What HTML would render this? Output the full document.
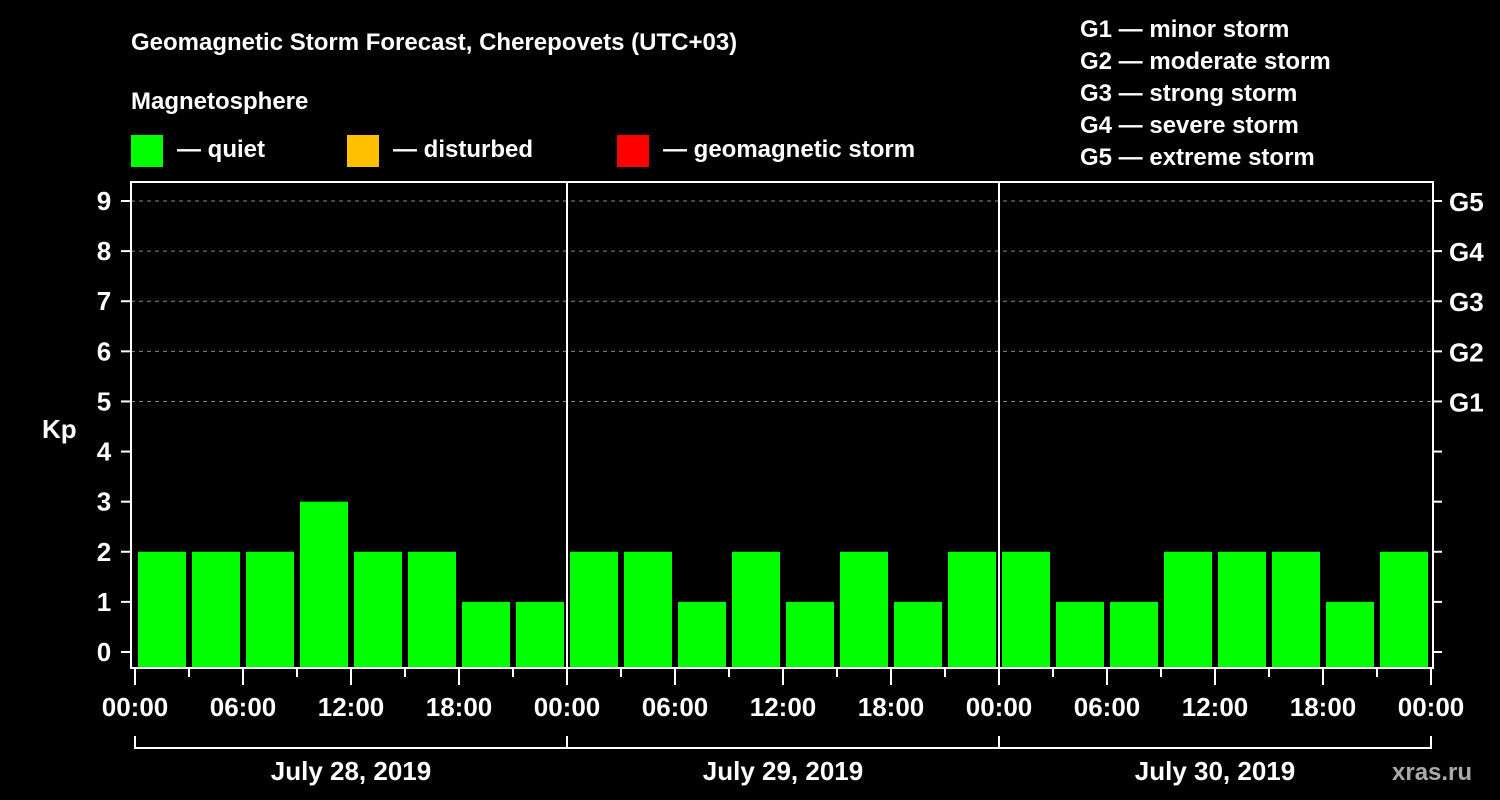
<!DOCTYPE html>
<html><head><meta charset="utf-8"><style>
html,body{margin:0;padding:0;background:#000;}
svg{display:block;font-family:"Liberation Sans",Arial,sans-serif;font-weight:bold;}
</style></head><body>
<svg id="c" width="1500" height="800" viewBox="0 0 1500 800">
<rect width="1500" height="800" fill="#000"/>
<text x="131" y="50" fill="#fff" font-size="24">Geomagnetic Storm Forecast, Cherepovets (UTC+03)</text>
<text x="131" y="109" fill="#fff" font-size="24">Magnetosphere</text>
<g><rect x="131" y="135" width="32" height="32" fill="#00ff00"/><text x="177" y="157" fill="#fff" font-size="24">— quiet</text></g>
<g><rect x="347" y="135" width="32" height="32" fill="#ffc000"/><text x="393" y="157" fill="#fff" font-size="24">— disturbed</text></g>
<g><rect x="617" y="135" width="32" height="32" fill="#ff0000"/><text x="663" y="157" fill="#fff" font-size="24">— geomagnetic storm</text></g>
<g fill="#fff" font-size="24">
<text x="1080" y="37">G1 — minor storm</text>
<text x="1080" y="69">G2 — moderate storm</text>
<text x="1080" y="101">G3 — strong storm</text>
<text x="1080" y="133">G4 — severe storm</text>
<text x="1080" y="165">G5 — extreme storm</text>
</g>
<text x="42" y="438" fill="#fff" font-size="26">Kp</text>
<text x="1392" y="780" fill="#aaa" font-size="24">xras.ru</text>
<g id="g"></g>
</svg>
<script>
const days = ["July 28, 2019","July 29, 2019","July 30, 2019"];
const hourLabels = ["00:00","06:00","12:00","18:00"];
const kpValues = [2,2,2,3,2,2,1,1, 2,2,1,2,1,2,1,2, 2,1,1,2,2,2,1,2];
const yTicks = [0,1,2,3,4,5,6,7,8,9];
const gLabels = ["G1","G2","G3","G4","G5"];
const gLevels = [5,6,7,8,9];

const X0=135, SLOT=54, L=131, R=1433, T=182, B=668;
const y = v => 652 - 50.11*v;
const x = i => X0 + SLOT*i;
const NS="http://www.w3.org/2000/svg", g=document.getElementById('g');
function mk(t,a,txt){const e=document.createElementNS(NS,t);for(const k in a)e.setAttribute(k,a[k]);if(txt!=null)e.textContent=txt;g.appendChild(e);return e;}

yTicks.forEach(v=>{
  if(v>=5){const l=mk('line',{x1:L,x2:R,y1:y(v),y2:y(v),stroke:'#888','stroke-dasharray':'4,4','stroke-width':1});
  
  }
  const t=mk('line',{x1:L-10,x2:L,y1:y(v),y2:y(v),stroke:'#fff','stroke-width':2});
  
  
  const t2=mk('line',{x1:R,x2:R+9,y1:y(v),y2:y(v),stroke:'#fff','stroke-width':2});
  
  
  const lb=mk('text',{x:104,y:y(v)+9,fill:'#fff','font-size':26,'text-anchor':'middle'},String(v));
  
  
});
gLevels.forEach((v,i)=>{
  const lb=mk('text',{x:1449,y:y(v)+10,fill:'#fff','font-size':26},gLabels[i]);
  
  
});
kpValues.forEach((v,i)=>{
  const col = v>=5?'#ff0000':(v>=4?'#ffc000':'#00ff00');
  const r=mk('rect',{x:x(i)+3,y:y(v),width:48,height:B-1-y(v),fill:col});
  
  
});
const f=mk('rect',{x:L,y:T,width:R-L,height:B-T,fill:'none',stroke:'#fff','stroke-width':2});


for(let d=1;d<days.length;d++){
  const l=mk('line',{x1:x(8*d),x2:x(8*d),y1:T,y2:B,stroke:'#fff','stroke-width':2});
  
  
}
for(let i=0;i<=kpValues.length;i++){
  const major=i%2===0;
  const t=mk('line',{x1:x(i),x2:x(i),y1:B,y2:B+(major?17:9),stroke:'#fff','stroke-width':2});
  
  
  if(major){
    const lb=mk('text',{x:x(i),y:716,fill:'#fff','font-size':26,'text-anchor':'middle'},hourLabels[(i/2)%4]);
    
    
  }
}
const br=mk('line',{x1:x(0),x2:x(24),y1:748,y2:748,stroke:'#fff','stroke-width':2});


for(let d=0;d<=days.length;d++){
  const l=mk('line',{x1:x(8*d),x2:x(8*d),y1:736,y2:749,stroke:'#fff','stroke-width':2});
  
  
}
days.forEach((s,d)=>{
  const lb=mk('text',{x:x(8*d+4),y:780,fill:'#fff','font-size':26,'text-anchor':'middle'},s);
  
  
});
</script>
</body></html>
